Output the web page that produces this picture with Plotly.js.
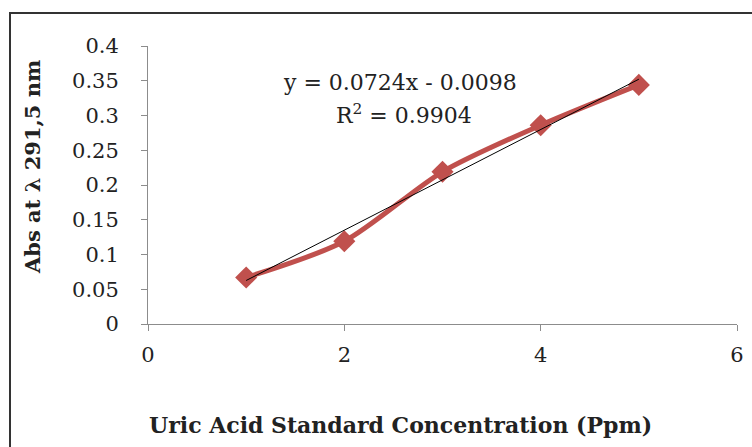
<!DOCTYPE html>
<html>
<head>
<meta charset="utf-8">
<script src="https://cdn.plot.ly/plotly-3.0.1.min.js"></script>
<style>
html,body{margin:0;padding:0;background:#fff;overflow:hidden;}
#frame{position:absolute;left:9px;top:12px;width:800px;height:500px;border-left:2px solid #333;border-top:2px solid #333;}
#chart{position:absolute;left:0;top:0;width:752px;height:447px;}
</style>
</head>
<body>
<div id="frame"></div>
<div id="chart"></div>
<script>
// Data
const concentration = [1, 2, 3, 4, 5];
const absorbance = [0.067, 0.119, 0.219, 0.286, 0.344];
const trendX = [1, 5];
const slope = 0.0724;
const intercept = -0.0098;
const xTicks = [0, 2, 4, 6];
const yTicks = [0, 0.05, 0.1, 0.15, 0.2, 0.25, 0.3, 0.35, 0.4];
const yTickLabels = ['0', '0.05', '0.1', '0.15', '0.2', '0.25', '0.3', '0.35', '0.4'];
const xTitle = 'Uric Acid Standard Concentration (Ppm)';
const yTitle = 'Abs at λ 291,5 nm';
const eqLine1 = 'y = 0.0724x - 0.0098';
const eqLine2 = 'R<sup>2</sup> = 0.9904';

const serif = '"DejaVu Serif", "Liberation Serif", serif';
const trendY = trendX.map(x => slope * x + intercept);

const traces = [
  {
    x: concentration, y: absorbance, type: 'scatter', mode: 'lines+markers',
    line: {color: '#C0504D', width: 5, shape: 'spline', smoothing: 0.8},
    marker: {symbol: 'diamond', size: 17, color: '#C0504D'},
    hoverinfo: 'x+y', showlegend: false
  },
  {
    x: trendX, y: trendY, type: 'scatter', mode: 'lines',
    line: {color: '#000', width: 1},
    hoverinfo: 'skip', showlegend: false
  }
];

const layout = {
  width: 752, height: 447,
  margin: {l: 148, r: 15, t: 46, b: 123},
  paper_bgcolor: 'rgba(0,0,0,0)', plot_bgcolor: 'rgba(0,0,0,0)',
  font: {family: serif, size: 21, color: '#222'},
  xaxis: {
    range: [0, 6], tickvals: xTicks, ticktext: xTicks.map(String),
    showgrid: false, zeroline: false, showline: true, linecolor: '#8c8c8c', linewidth: 1,
    ticks: 'outside', ticklen: 6, tickcolor: '#8c8c8c',
    ticklabelstandoff: 6,
    tickfont: {family: serif, size: 21, color: '#222'}
  },
  yaxis: {
    range: [0, 0.4], tickvals: yTicks, ticktext: yTickLabels,
    showgrid: false, zeroline: false, showline: true, linecolor: '#8c8c8c', linewidth: 1,
    ticks: 'outside', ticklen: 6, tickcolor: '#8c8c8c',
    ticklabelstandoff: 18,
    tickfont: {family: serif, size: 21, color: '#222'}
  },
  annotations: [
    {text: eqLine1, xref: 'paper', yref: 'paper', x: 0.428, y: 0.870,
     xanchor: 'center', yanchor: 'middle', showarrow: false,
     font: {family: serif, size: 22, color: '#222'}},
    {text: eqLine2, xref: 'paper', yref: 'paper', x: 0.434, y: 0.755,
     xanchor: 'center', yanchor: 'middle', showarrow: false,
     font: {family: serif, size: 22, color: '#222'}},
    {text: '<b>' + xTitle + '</b>', xref: 'paper', yref: 'paper', x: 0.428, y: -0.363,
     xanchor: 'center', yanchor: 'middle', showarrow: false,
     font: {family: serif, size: 22, color: '#222'}},
    {text: '<b>' + yTitle + '</b>', xref: 'paper', yref: 'paper', x: -0.195, y: 0.565,
     xanchor: 'center', yanchor: 'middle', showarrow: false, textangle: -90,
     font: {family: serif, size: 21, color: '#222'}}
  ]
};

Plotly.newPlot('chart', traces, layout, {displayModeBar: false, staticPlot: true});
</script>
</body>
</html>
